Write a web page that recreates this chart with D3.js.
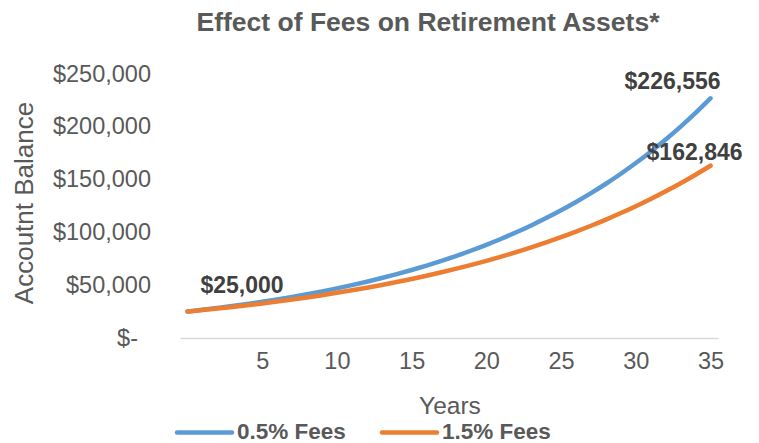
<!DOCTYPE html>
<html>
<head>
<meta charset="utf-8">
<script src="https://d3js.org/d3.v7.min.js"></script>
<style>
  body { margin: 0; background: #fff; }
  text { font-family: "Liberation Sans", Arial, sans-serif; }
</style>
</head>
<body>
<div id="chart"></div>
<script>
var years = [0, 1, 2, 3, 4, 5, 6, 7, 8, 9, 10, 11, 12, 13, 14, 15, 16, 17,
             18, 19, 20, 21, 22, 23, 24, 25, 26, 27, 28, 29, 30, 31, 32, 33, 34, 35];

var lowFees = [25000, 26625, 28356, 30199, 32162, 34252, 36479, 38850, 41375, 44064,
               46928, 49979, 53227, 56687, 60372, 64296, 68475, 72926, 77666, 82715,
               88091, 93817, 99915, 106410, 113326, 120692, 128537, 136892, 145790, 155267,
               165359, 176107, 187554, 199746, 212729, 226556];

var highFees = [25000, 26375, 27826, 29356, 30971, 32674, 34471, 36367, 38367, 40477,
                42704, 45052, 47530, 50144, 52902, 55812, 58882, 62120, 65537, 69141,
                72944, 76956, 81188, 85654, 90365, 95335, 100578, 106110, 111946, 118103,
                124599, 131452, 138682, 146309, 154356, 162846];

var seriesNames = ["0.5% Fees", "1.5% Fees"];
var seriesColors = ["#5B9BD5", "#ED7D31"];
var xTicks = [5, 10, 15, 20, 25, 30, 35];
var yTicks = [0, 50000, 100000, 150000, 200000, 250000];

var width = 759, height = 443;

var svg = d3.select("#chart")
    .append("svg")
    .attr("width", width)
    .attr("height", height);

var x = d3.scaleLinear()
    .domain([-0.5, 35.5])
    .range([180, 718]);

var y = d3.scaleLinear()
    .domain([0, 250000])
    .range([338, 73.5]);

var money = d3.format(",");

// title
svg.append("text")
    .attr("x", 428)
    .attr("y", 31)
    .attr("text-anchor", "middle")
    .attr("font-size", 26.5)
    .attr("font-weight", "bold")
    .attr("fill", "#595959")
    .text("Effect of Fees on Retirement Assets*");

// y axis, labels only
var yAxis = svg.append("g")
    .attr("transform", "translate(151,0)")
    .call(d3.axisLeft(y)
        .tickValues(yTicks)
        .tickSize(0)
        .tickPadding(0)
        .tickFormat(function(d) { return d === 0 ? "$-" : "$" + money(d); }));
yAxis.select(".domain").remove();
yAxis.selectAll("text")
    .attr("font-size", 23.5)
    .attr("fill", "#595959")
    .attr("font-family", "Liberation Sans, Arial, sans-serif")
    .attr("dx", function(d) { return d === 0 ? -13 : 0; });

// x axis
var xAxis = svg.append("g")
    .attr("transform", "translate(0," + y(0) + ")")
    .call(d3.axisBottom(x)
        .tickValues(xTicks)
        .tickSize(0)
        .tickPadding(14));
xAxis.select(".domain")
    .attr("stroke", "#D9D9D9")
    .attr("stroke-width", 1.5);
xAxis.selectAll("text")
    .attr("font-size", 23.5)
    .attr("fill", "#595959")
    .attr("font-family", "Liberation Sans, Arial, sans-serif");

// axis titles
svg.append("text")
    .attr("transform", "translate(33,203) rotate(-90)")
    .attr("text-anchor", "middle")
    .attr("font-size", 26)
    .attr("fill", "#595959")
    .text("Accoutnt Balance");

svg.append("text")
    .attr("x", 450)
    .attr("y", 414)
    .attr("text-anchor", "middle")
    .attr("font-size", 24.5)
    .attr("fill", "#595959")
    .text("Years");

// lines
var line = d3.line()
    .x(function(d, i) { return x(years[i]); })
    .y(function(d) { return y(d); })
    .curve(d3.curveMonotoneX);

[lowFees, highFees].forEach(function(vals, k) {
    svg.append("path")
        .datum(vals)
        .attr("d", line)
        .attr("fill", "none")
        .attr("stroke", seriesColors[k])
        .attr("stroke-width", 4.5)
        .attr("stroke-linecap", "round");
});

// data labels
var last = years.length - 1;
svg.append("text")
    .attr("x", x(years[0]) + 13)
    .attr("y", y(lowFees[0]) - 19)
    .attr("font-size", 23)
    .attr("font-weight", "bold")
    .attr("fill", "#404040")
    .text("$" + money(lowFees[0]));

svg.append("text")
    .attr("x", x(years[last]) + 10)
    .attr("y", y(lowFees[last]) - 9)
    .attr("text-anchor", "end")
    .attr("font-size", 23)
    .attr("font-weight", "bold")
    .attr("fill", "#404040")
    .text("$" + money(lowFees[last]));

svg.append("text")
    .attr("x", x(years[last]) + 32)
    .attr("y", y(highFees[last]) - 6)
    .attr("text-anchor", "end")
    .attr("font-size", 23)
    .attr("font-weight", "bold")
    .attr("fill", "#404040")
    .text("$" + money(highFees[last]));

// legend
var legend = svg.append("g");
var legendX = [177, 382];
seriesNames.forEach(function(name, k) {
    legend.append("line")
        .attr("x1", legendX[k])
        .attr("x2", legendX[k] + 55)
        .attr("y1", 432.5)
        .attr("y2", 432.5)
        .attr("stroke", seriesColors[k])
        .attr("stroke-width", 4.5)
        .attr("stroke-linecap", "round");
    legend.append("text")
        .attr("x", legendX[k] + 60)
        .attr("y", 439)
        .attr("font-size", 22.5)
        .attr("font-weight", "bold")
        .attr("fill", "#595959")
        .text(name);
});
</script>
</body>
</html>
